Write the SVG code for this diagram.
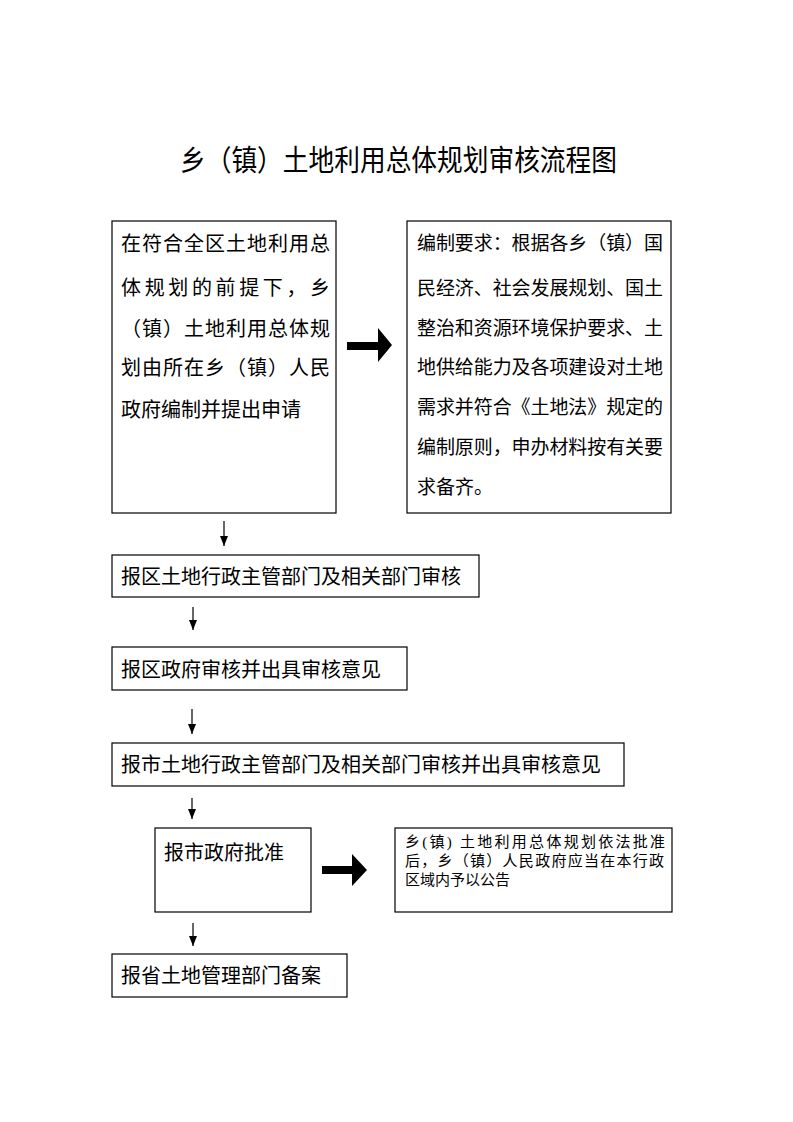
<svg xmlns="http://www.w3.org/2000/svg" width="793" height="1122" viewBox="0 0 793 1122">
<style>
.box{fill:#fff;stroke:#000;stroke-width:1.2}
.t{font-family:"Liberation Serif","Noto Sans CJK SC",serif;font-size:20px;fill:#000}
.m{font-size:19px}
.s{font-family:"Liberation Serif","Noto Sans CJK SC",serif;font-size:15px;fill:#000}
.title{font-family:"Noto Sans CJK SC",sans-serif;font-size:29px;fill:#000}
.ln{stroke:#000;stroke-width:1.2;fill:none}
.fat{fill:#000}
</style>
<defs>
<marker id="ah" markerUnits="userSpaceOnUse" markerWidth="10" markerHeight="8" viewBox="0 0 10 8" refX="10" refY="4" orient="auto">
<path d="M0,0 L10,4 L0,8 Z" fill="#000"/>
</marker>
</defs>
<rect width="793" height="1122" fill="#fff"/>
<text class="title" x="180" y="171" textLength="437" lengthAdjust="spacingAndGlyphs">乡（镇）土地利用总体规划审核流程图</text>

<g id="node-apply">
<rect class="box" x="112" y="221" width="224" height="292"/>
<text class="t" x="121" y="251" textLength="209" lengthAdjust="spacing">在符合全区土地利用总</text>
<text class="t" x="121" y="295" textLength="209" lengthAdjust="spacing">体规划的前提下，乡</text>
<text class="t" x="121" y="336" textLength="209" lengthAdjust="spacing">（镇）土地利用总体规</text>
<text class="t" x="121" y="375" textLength="209" lengthAdjust="spacing">划由所在乡（镇）人民</text>
<text class="t" x="121" y="417">政府编制并提出申请</text>
</g>

<g id="node-requirements">
<rect class="box" x="407" y="221" width="264" height="292"/>
<text class="t m" x="417" y="250" textLength="246" lengthAdjust="spacing">编制要求：根据各乡（镇）国</text>
<text class="t m" x="417" y="295" textLength="246" lengthAdjust="spacing">民经济、社会发展规划、国土</text>
<text class="t m" x="417" y="335" textLength="246" lengthAdjust="spacing">整治和资源环境保护要求、土</text>
<text class="t m" x="417" y="374" textLength="246" lengthAdjust="spacing">地供给能力及各项建设对土地</text>
<text class="t m" x="417" y="414" textLength="246" lengthAdjust="spacing">需求并符合《土地法》规定的</text>
<text class="t m" x="417" y="454" textLength="246" lengthAdjust="spacing">编制原则，申办材料按有关要</text>
<text class="t m" x="417" y="494">求备齐。</text>
</g>

<g id="node-district-dept">
<rect class="box" x="112" y="555" width="367" height="42"/>
<text class="t" x="121" y="584">报区土地行政主管部门及相关部门审核</text>
</g>

<g id="node-district-gov">
<rect class="box" x="112" y="647" width="295" height="43"/>
<text class="t" x="121" y="677">报区政府审核并出具审核意见</text>
</g>

<g id="node-city-dept">
<rect class="box" x="112" y="743" width="512" height="43"/>
<text class="t" x="121" y="772">报市土地行政主管部门及相关部门审核并出具审核意见</text>
</g>

<g id="node-city-gov">
<rect class="box" x="155" y="828" width="156" height="84"/>
<text class="t" x="164" y="860">报市政府批准</text>
</g>

<g id="node-announce">
<rect class="box" x="395" y="828" width="277" height="84"/>
<text class="s" x="405" y="847" textLength="260" lengthAdjust="spacing">乡(镇) 土地利用总体规划依法批准</text>
<text class="s" x="405" y="866" textLength="259" lengthAdjust="spacing">后，乡（镇）人民政府应当在本行政</text>
<text class="s" x="405" y="885">区域内予以公告</text>
</g>

<g id="node-province">
<rect class="box" x="112" y="954" width="235" height="43"/>
<text class="t" x="121" y="983">报省土地管理部门备案</text>
</g>

<g id="connectors">
<path class="fat" d="M347,342 L378,342 L378,328 L392,345 L378,362 L378,350 L347,350 Z"/>
<path class="fat" d="M322,866 L352,866 L352,854 L367,870 L352,886 L352,874 L322,874 Z"/>
<line class="ln" x1="224" y1="521" x2="224" y2="546" marker-end="url(#ah)"/>
<line class="ln" x1="193" y1="607" x2="193" y2="630" marker-end="url(#ah)"/>
<line class="ln" x1="192" y1="709" x2="192" y2="734" marker-end="url(#ah)"/>
<line class="ln" x1="192" y1="798" x2="192" y2="819" marker-end="url(#ah)"/>
<line class="ln" x1="193" y1="923" x2="193" y2="946" marker-end="url(#ah)"/>
</g>
</svg>
